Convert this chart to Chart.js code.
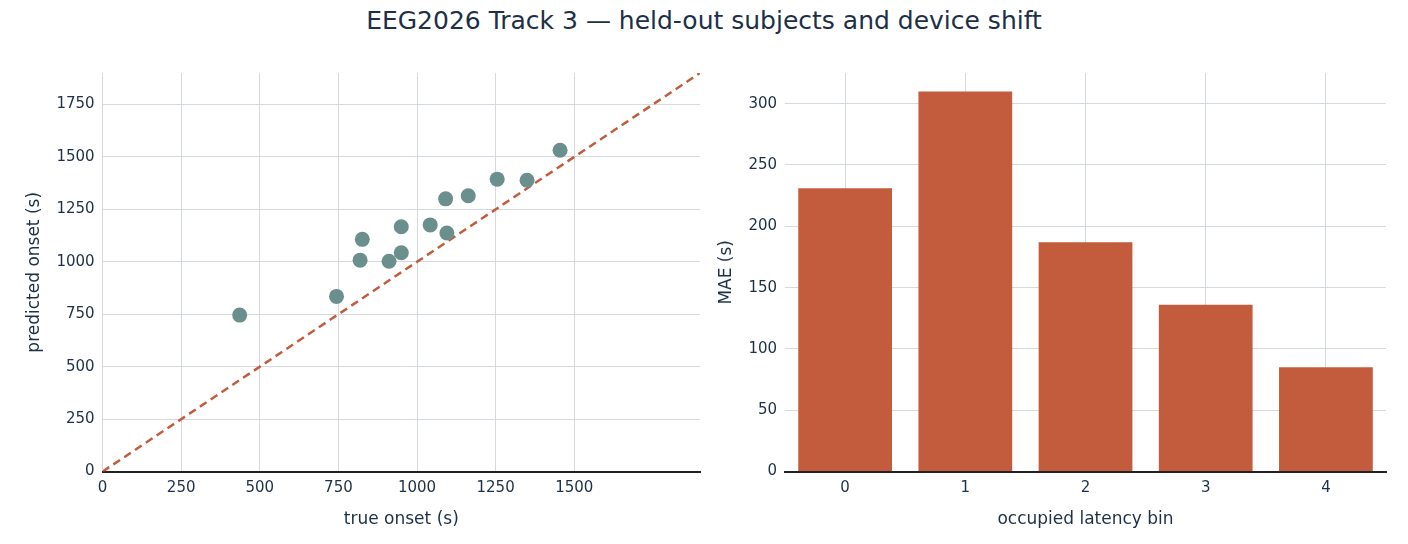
<!DOCTYPE html>
<html>
<head>
<script src="https://cdn.jsdelivr.net/npm/chart.js@4"></script>
<style>
  body { margin: 0; background: #fff; font-family: "DejaVu Sans", sans-serif; }
  #title { position: absolute; top: 6px; left: 0; width: 1408px; text-align: center; font-size: 25px; color: #1d3048; }
  canvas { position: absolute; top: 56px; }
</style>
</head>
<body>
<div id="title">EEG2026 Track 3 — held-out subjects and device shift</div>
<canvas id="scatter" width="690" height="478" style="left:20px;"></canvas>
<canvas id="bars" width="684" height="478" style="left:712px;"></canvas>
<script>
const trueOnset = [436, 744, 819, 826, 911, 950, 950, 1042, 1091, 1095, 1163, 1255, 1350, 1455];
const predOnset = [746, 835, 1008, 1107, 1003, 1043, 1167, 1176, 1300, 1137, 1315, 1394, 1389, 1532];
const binLabels = ["0", "1", "2", "3", "4"];
const binMae = [231, 310, 187, 136, 85];

const textColor = "#1d3048";
const gridColor = "#d5d9e0";
Chart.defaults.font.family = "DejaVu Sans";
Chart.defaults.font.size = 15;
Chart.defaults.color = textColor;

// keep only round ticks, drop the axis max tick
function stepTicks(step) {
  return (axis) => { axis.ticks = axis.ticks.filter((t) => t.value % step === 0); };
}
const plainLabel = (v) => String(v);

const scatterPoints = trueOnset.map((x, i) => ({ x: x, y: predOnset[i] }));

new Chart(document.getElementById("scatter"), {
  type: "scatter",
  data: {
    datasets: [
      {
        data: scatterPoints,
        backgroundColor: "#6b8f8d",
        borderWidth: 0,
        pointRadius: 7.5,
      },
      {
        type: "line",
        data: [{ x: 0, y: 0 }, { x: 1900, y: 1900 }],
        borderColor: "#c35c3c",
        borderWidth: 2.5,
        borderDash: [8, 5],
        pointRadius: 0,
      },
    ],
  },
  options: {
    responsive: false,
    animation: false,
    plugins: { legend: { display: false }, tooltip: { enabled: false } },
    layout: { padding: { top: 14, right: 10 } },
    scales: {
      x: {
        type: "linear", min: 0, max: 1900,
        afterBuildTicks: stepTicks(250),
        ticks: { stepSize: 250, padding: 8, maxRotation: 0, callback: plainLabel },
        grid: { color: gridColor, tickLength: 0 },
        border: { color: "#222", width: 2 },
        title: { display: true, text: "true onset (s)", font: { size: 17 } },
      },
      y: {
        type: "linear", min: 0, max: 1900,
        afterBuildTicks: stepTicks(250),
        ticks: { stepSize: 250, padding: 8, callback: plainLabel },
        grid: { color: gridColor, tickLength: 0 },
        border: { display: false },
        title: { display: true, text: "predicted onset (s)", font: { size: 17 } },
      },
    },
  },
});

new Chart(document.getElementById("bars"), {
  type: "bar",
  data: {
    labels: binLabels,
    datasets: [{ data: binMae, backgroundColor: "#c35c3c", categoryPercentage: 1, barPercentage: 0.78 }],
  },
  options: {
    responsive: false,
    animation: false,
    plugins: { legend: { display: false }, tooltip: { enabled: false } },
    layout: { padding: { top: 14, right: 10 } },
    scales: {
      x: {
        ticks: { padding: 8, maxRotation: 0 },
        grid: { color: gridColor, tickLength: 0, offset: false },
        border: { color: "#222", width: 2 },
        title: { display: true, text: "occupied latency bin", font: { size: 17 } },
      },
      y: {
        min: 0, max: 325,
        afterBuildTicks: stepTicks(50),
        ticks: { stepSize: 50, padding: 8, callback: plainLabel },
        grid: { color: gridColor, tickLength: 0 },
        border: { display: false },
        title: { display: true, text: "MAE (s)", font: { size: 17 } },
      },
    },
  },
});
</script>
</body>
</html>
